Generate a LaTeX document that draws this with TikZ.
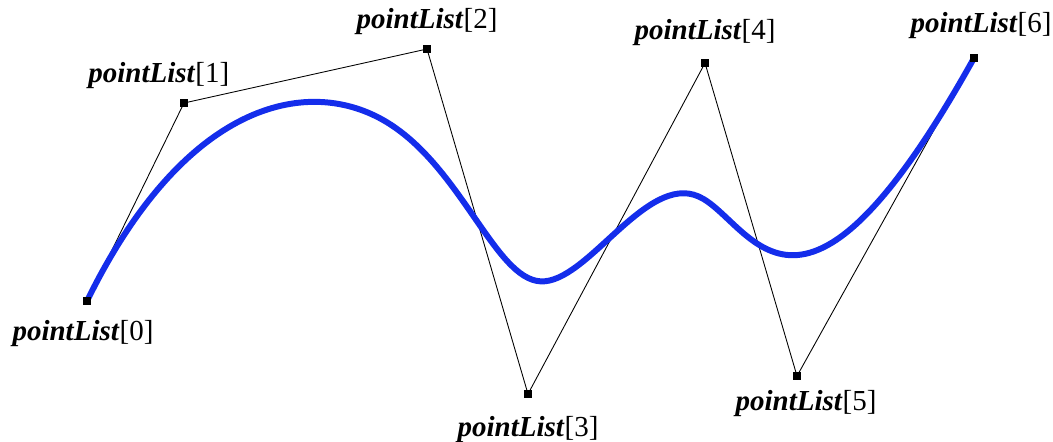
\documentclass[tikz,border=0pt]{standalone}
\usepackage{fontspec}
\setmainfont{Liberation Serif}
\usetikzlibrary{positioning, calc, backgrounds}
\definecolor{curveblue}{RGB}{20,45,235}

\begin{document}
\begin{tikzpicture}[
    x=0.02cm, y=-0.02cm,
    ctrlpt/.style={rectangle, fill=black, inner sep=0pt, minimum size=0.16cm},
    ptlabel/.style={inner sep=0pt, font=\fontsize{16.5}{18}\selectfont},
    polyline/.style={black, line width=0.5pt},
    splinecurve/.style={curveblue, line width=3.4pt, line cap=round}
]
    \useasboundingbox (0,0) rectangle (1053,441);

    % Control points
    \node[ctrlpt] (p0) at (87,301) {};
    \node[ctrlpt] (p1) at (184,103) {};
    \node[ctrlpt] (p2) at (427,49) {};
    \node[ctrlpt] (p3) at (528,394) {};
    \node[ctrlpt] (p4) at (705,63) {};
    \node[ctrlpt] (p5) at (797,376) {};
    \node[ctrlpt] (p6) at (974,58) {};

    % Bezier points of the cubic B-spline
    \coordinate (a1) at ($(p1.center)!0.5!(p2.center)$);
    \coordinate (b1) at ($(p2.center)!0.3333!(p3.center)$);
    \coordinate (k1) at ($(a1)!0.5!(b1)$);
    \coordinate (a2) at ($(p2.center)!0.6667!(p3.center)$);
    \coordinate (b2) at ($(p3.center)!0.3333!(p4.center)$);
    \coordinate (k2) at ($(a2)!0.5!(b2)$);
    \coordinate (a3) at ($(p3.center)!0.6667!(p4.center)$);
    \coordinate (b3) at ($(p4.center)!0.5!(p5.center)$);
    \coordinate (k3) at ($(a3)!0.5!(b3)$);

    \begin{pgfonlayer}{background}
        % Control polygon
        \draw[polyline] (p0.center) -- (p1.center) -- (p2.center) -- (p3.center)
            -- (p4.center) -- (p5.center) -- (p6.center);

        % Curve
        \draw[splinecurve] (p0.center) .. controls (p1.center) and (a1) .. (k1)
            .. controls (b1) and (a2) .. (k2)
            .. controls (b2) and (a3) .. (k3)
            .. controls (b3) and (p5.center) .. (p6.center);
    \end{pgfonlayer}

    % Labels
    \node[ptlabel, below=0.3cm of p0, xshift=-0.08cm] (l0) {\textbf{\textit{pointList}}[0]};
    \node[ptlabel, above left=0.2cm and -1.0cm of p1] (l1) {\textbf{\textit{pointList}}[1]};
    \node[ptlabel, above=0.2cm of p2] (l2) {\textbf{\textit{pointList}}[2]};
    \node[ptlabel, below=0.36cm of p3] (l3) {\textbf{\textit{pointList}}[3]};
    \node[ptlabel, above=0.25cm of p4] (l4) {\textbf{\textit{pointList}}[4]};
    \node[ptlabel, below=0.2cm of p5, xshift=0.18cm] (l5) {\textbf{\textit{pointList}}[5]};
    \node[ptlabel, above=0.3cm of p6, xshift=0.14cm] (l6) {\textbf{\textit{pointList}}[6]};
\end{tikzpicture}
\end{document}
